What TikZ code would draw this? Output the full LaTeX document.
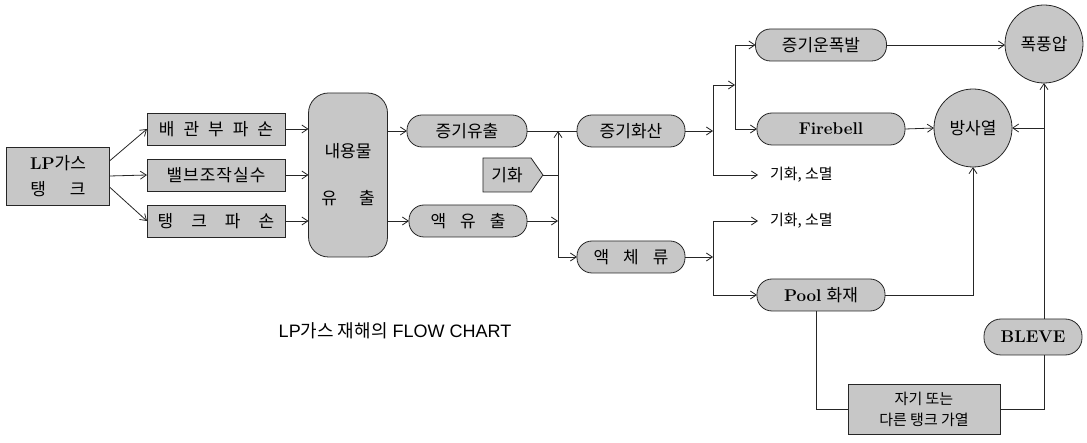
\documentclass[tikz,border=0pt]{standalone}
\usepackage{fontspec}
\setsansfont{Liberation Sans}
\newfontfamily\kr{Noto Sans CJK KR}
\usetikzlibrary{arrows.meta,shapes.symbols}
\newcommand\kgap{\hspace{9pt}}
\begin{document}
\begin{tikzpicture}[x=1pt,y=-1pt,
  every node/.style={inner sep=0pt, outer sep=0pt},
  box/.style={draw=black!85, line width=0.8pt, fill=black!22, font=\fontsize{17}{19}\selectfont},
  rbox/.style={box, rectangle},
  pill/.style={box, rectangle, rounded corners=15pt, minimum height=32pt},
  circ/.style={box, circle, minimum size=78pt},
  ln/.style={draw=black!85, line width=0.8pt},
  ar/.style={ln, -{Straight Barb[length=6pt,width=8pt]}},
  lbl/.style={font=\kr\fontsize{15}{17}\selectfont},
  latin/.style={font=\bfseries\fontsize{17}{20}\selectfont}
]
\useasboundingbox (0,0) rectangle (1087,443);

% left column
\node[rbox, minimum width=103pt, minimum height=58pt, align=center, font=\fontsize{17}{26}\selectfont] (lp) at (58,176) {\textbf{LP}{\kr 가스}\\{\kr 탱\hspace{24pt}크}};
\node[rbox, minimum width=138pt, minimum height=32pt] (b1) at (216,129) {\kr 배\kgap 관\kgap 부\kgap 파\kgap 손};
\node[rbox, minimum width=138pt, minimum height=32pt] (b2) at (216,175) {\kr 밸\hspace{1pt}브\hspace{1pt}조\hspace{1pt}작\hspace{1pt}실\hspace{1pt}수};
\node[rbox, minimum width=138pt, minimum height=32pt] (b3) at (216,221) {\kr 탱\hspace{18pt}크\hspace{18pt}파\hspace{18pt}손};
\node[box, rectangle, rounded corners=20pt, minimum width=79pt, minimum height=164pt, align=center, font=\kr\fontsize{17}{19}\selectfont] (con) at (348,175) {내용물\\[28pt]유\hspace{22pt}출};

% middle
\node[pill, minimum width=120pt] (vl) at (467,131) {\kr 증기유출};
\node[pill, minimum width=118pt] (ll) at (468,221) {\kr 액\hspace{14pt}유\hspace{14pt}출};
\node[box, signal, signal to=east, signal pointer angle=110, minimum width=60pt, minimum height=34pt] (gh) at (507,175) {\kr 기화};
\node[pill, minimum width=108pt] (vd) at (631,131) {\kr 증기화산};
\node[pill, minimum width=108pt] (ld) at (631,257) {\kr 액\hspace{14pt}체\hspace{14pt}류};

% right
\node[pill, minimum width=131pt] (ve) at (821,45) {\kr 증기운폭발};
\node[pill, minimum width=148pt, latin] (fb) at (831,129) {Firebell};
\node[pill, minimum width=128pt] (pool) at (821,295) {\textbf{Pool} {\kr 화재}};
\node[circ] (pp) at (1044,44) {\kr 폭풍압};
\node[circ] (ra) at (973,128) {\kr 방사열};
\node[pill, minimum width=98pt, minimum height=36pt, rounded corners=17pt, latin] (bl) at (1033,337) {BLEVE};
\node[rbox, minimum width=152pt, minimum height=50pt, align=center, font=\kr\fontsize{15}{21}\selectfont] (hb) at (924,409) {자기 또는\\다른 탱크 가열};
\node[lbl, anchor=west] (g1) at (770,175) {기화, 소멸};
\node[lbl, anchor=west] (g2) at (770,221) {기화, 소멸};
\node[font=\sffamily\fontsize{18}{21}\selectfont] (cap) at (395,331) {LP{\kr 가스 재해의} FLOW CHART};

% coordinates
\coordinate (j1) at (558,131);
\coordinate (j2) at (558,257);
\coordinate (k1) at (713,131);
\coordinate (k2) at (713,85);
\coordinate (k3) at (713,175);
\coordinate (m1) at (735,85);
\coordinate (m2) at (735,45);
\coordinate (m3) at (735,129);
\coordinate (n1) at (713,257);
\coordinate (n2) at (713,221);
\coordinate (n3) at (713,295);
\coordinate (r1) at (1044,128);
\coordinate (rb) at (bl.north -| pp.south);
\coordinate (rc) at (bl.south -| pp.south);
\coordinate (pd) at ([xshift=-5pt]pool.south);

% connectors left
\draw[ar] ([yshift=15pt]lp.east) -- (b1.west);
\draw[ar] (lp.east) -- (b2.west);
\draw[ar] ([yshift=-11pt]lp.east) -- (b3.west);
\draw[ar] (b1.east) -- (b1.east -| con.west);
\draw[ar] (b2.east) -- (b2.east -| con.west);
\draw[ar] (b3.east) -- (b3.east -| con.west);
\draw[ar] (vl.west -| con.east) -- (vl.west);
\draw[ar] (ll.west -| con.east) -- (ll.west);

% middle junction
\draw[ln] (vl.east) -- (vd.west);
\draw[ar] (j2) -- (j1);
\draw[ln] (gh.east) -- (gh.east -| j1);
\draw[ar] (ll.east) -- (ll.east -| j1);
\draw[ar] (j2) -- (ld.west);

% right junctions
\draw[ar] (vd.east) -- (k1);
\draw[ln] (k2) -- (k3);
\draw[ar] (k2) -- (m1);
\draw[ln] (m2) -- (m3);
\draw[ar] (m2) -- (ve.west);
\draw[ar] (m3) -- (fb.west);
\draw[ar] (k3) -- ([xshift=-12pt]g1.west);
\draw[ar] (ld.east) -- (n1);
\draw[ln] (n2) -- (n3);
\draw[ar] (n2) -- ([xshift=-12pt]g2.west);
\draw[ar] (n3) -- (pool.west);

% outcomes
\draw[ar] (ve.east) -- (ve.east -| pp.west);
\draw[ar] (fb.east) -- (ra.west);
\draw[ar] (r1) -- (ra.east);
\draw[ar] (rb) -- (pp.south);
\draw[ar] (pool.east) -| (ra.south);
\draw[ln] (pd) |- (hb.west);
\draw[ln] (hb.east) -| (rc);
\end{tikzpicture}
\end{document}
